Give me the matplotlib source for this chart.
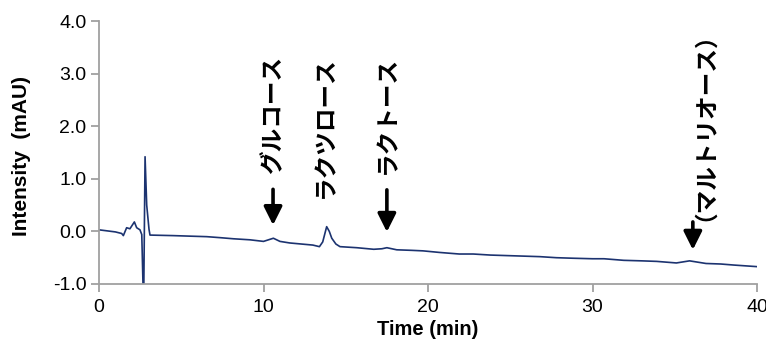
import matplotlib
matplotlib.use("Agg")
import matplotlib.pyplot as plt

plt.rcParams['font.family'] = ['Liberation Sans', 'Noto Sans CJK JP', 'DejaVu Sans']
plt.rcParams['axes.unicode_minus'] = False

# chromatogram trace (time in min, intensity in mAU)
time = [0.0, 0.5, 1.0, 1.38, 1.48, 1.68, 1.88, 2.15, 2.29, 2.49, 2.6, 2.69, 2.72, 2.8, 2.9, 3.04, 3.1,
        4.5, 5.5, 6.55, 7.4, 8.16, 9.18, 10.0, 10.3, 10.6, 11.0, 11.6, 12.3, 13.0, 13.4, 13.6, 13.84,
        14.0, 14.15, 14.4, 14.65, 15.67, 16.7, 17.2, 17.5, 18.1, 19.0, 19.7, 20.7, 21.9, 22.75, 23.8,
        24.8, 25.8, 26.8, 27.8, 28.8, 30.0, 30.7, 31.9, 33.0, 33.9, 35.1, 35.9, 36.9, 37.8, 38.6, 40.0]
intensity = [0.03, 0.01, -0.01, -0.04, -0.08, 0.07, 0.05, 0.18, 0.07, 0.03, -0.06, -1.2, -1.2, 1.42, 0.5, 0.04, -0.07,
             -0.08, -0.09, -0.10, -0.12, -0.14, -0.16, -0.19, -0.16, -0.13, -0.19, -0.22, -0.24, -0.26, -0.29, -0.20, 0.09,
             0.0, -0.13, -0.24, -0.29, -0.31, -0.34, -0.33, -0.31, -0.35, -0.36, -0.37, -0.40, -0.43, -0.43, -0.45,
             -0.46, -0.47, -0.48, -0.50, -0.51, -0.52, -0.52, -0.55, -0.56, -0.57, -0.60, -0.56, -0.61, -0.62, -0.64, -0.67]

# annotations
labels = ['グルコース', 'ラクツロース', 'ラクトース', '（マルトリオース）']
label_x = [10.58, 13.74, 17.5, 36.1]
label_top = [3.33, 3.33, 3.33, 4.24]
arrow_start = [0.80, None, 0.79, 0.18]
arrow_end = [0.12, None, -0.01, -0.35]

x_ticks = [0, 10, 20, 30, 40]
y_ticks = [-1.0, 0.0, 1.0, 2.0, 3.0, 4.0]

fig = plt.figure(figsize=(7.66, 3.42), dpi=100)
ax = fig.add_axes([99/766, 1-284/342, 658/766, 263/342])

ax.plot(time, intensity, color='#1c3370', lw=1.2)
ax.set_xlim(0, 40)
ax.set_ylim(-1.0, 4.0)
ax.set_xticks(x_ticks)
ax.set_yticks(y_ticks)
ax.set_yticklabels([f'{v:.1f}' for v in y_ticks])

for s in ['top', 'right']:
    ax.spines[s].set_visible(False)
for s in ['left', 'bottom']:
    ax.spines[s].set_color('#a0a0a0')
    ax.spines[s].set_linewidth(1.3)
ax.tick_params(axis='both', colors='#a0a0a0', length=6, width=1.3, labelsize=14, labelcolor='black')
ax.tick_params(axis='x', pad=5)
ax.tick_params(axis='y', pad=3)

ax.set_xlabel('Time (min)', fontsize=14.5, fontweight='bold', va='top')
ax.xaxis.set_label_coords(0.5, -0.135)
ax.set_ylabel('Intensity  (mAU)', fontsize=15, fontweight='bold')
ax.yaxis.set_label_coords(-0.104, 0.487)

for lab, x, yt, a0, a1 in zip(labels, label_x, label_top, arrow_start, arrow_end):
    ax.text(x, yt, lab, rotation=90, ha='center', va='top', fontsize=17,
            fontweight='bold', family=['Noto Sans CJK JP'])
    if a0 is not None:
        ax.annotate('', xy=(x, a1), xytext=(x, a0),
                    arrowprops=dict(arrowstyle='-|>,head_length=1.1,head_width=0.55',
                                    color='black', lw=2.6, shrinkA=0, shrinkB=0))

fig.savefig('out.png', dpi=100)
